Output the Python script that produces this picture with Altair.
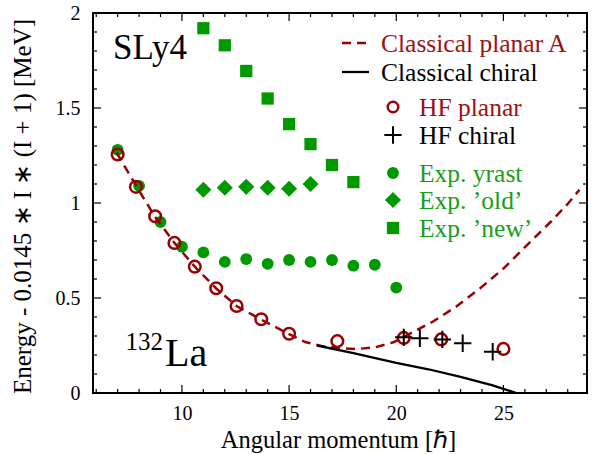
import altair as alt
import pandas as pd

# ---------------- data ----------------
yrast_I = [7, 8, 9, 10, 11, 12, 13, 14, 15, 16, 17, 18, 19, 20]
yrast_E = [1.28, 1.09, 0.90, 0.77, 0.74, 0.69, 0.705, 0.68, 0.70, 0.69, 0.70, 0.67, 0.675, 0.555]

old_I = [11, 12, 13, 14, 15, 16]
old_E = [1.07, 1.08, 1.085, 1.08, 1.075, 1.10]

new_I = [11, 12, 13, 14, 15, 16, 17, 18]
new_E = [1.92, 1.83, 1.695, 1.55, 1.415, 1.31, 1.20, 1.11]

hfp_I = [7.0, 7.85, 8.75, 9.65, 10.6, 11.6, 12.55, 13.7, 15.0, 17.25, 20.35, 22.1, 25.0]
hfp_E = [1.255, 1.085, 0.93, 0.79, 0.665, 0.551, 0.458, 0.388, 0.312, 0.273, 0.29, 0.282, 0.232]

hfc_I = [20.35, 21.1, 22.15, 23.1, 24.5]
hfc_E = [0.293, 0.288, 0.282, 0.262, 0.217]

cpa_I = [6.95, 7.5, 8.0, 8.7, 9.65, 10.6, 11.6, 12.55, 13.7, 15.0, 15.75, 16.5, 17.3, 18.1,
         19.0, 19.9, 20.6, 21.7, 22.8, 23.9, 25.0, 26.1, 27.2, 28.0, 28.55]
cpa_E = [1.265, 1.16, 1.065, 0.935, 0.79, 0.665, 0.55, 0.458, 0.386, 0.31, 0.268, 0.248, 0.236, 0.231,
         0.24, 0.268, 0.31, 0.375, 0.455, 0.55, 0.655, 0.778, 0.9, 0.995, 1.07]

cc_I = [16.3, 18.0, 20.0, 21.5, 23.0, 24.5, 25.6]
cc_E = [0.25, 0.21, 0.158, 0.125, 0.085, 0.04, 0.0]

x_major = [10, 15, 20, 25]
x_minor = [6, 7, 8, 9, 11, 12, 13, 14, 16, 17, 18, 19, 21, 22, 23, 24, 26, 27, 28]
y_major = [0, 0.5, 1, 1.5, 2]
y_minor = [0.1, 0.2, 0.3, 0.4, 0.6, 0.7, 0.8, 0.9, 1.1, 1.2, 1.3, 1.4, 1.6, 1.7, 1.8, 1.9]

legend_labels = ["Classical planar A", "Classical chiral", "HF planar", "HF chiral",
                 "Exp. yrast", "Exp. \u2019old\u2019", "Exp. \u2019new\u2019"]

# ---------------- styles ----------------
W, H = 494, 380
RED = "#9b0000"
RED_TXT = "#a01010"
GREEN = "#009a00"
GREEN_TXT = "#1a9e1a"
FONT = "Liberation Serif"
CROSS = "M-1,0L1,0M0,-1L0,1"

xs = alt.Scale(domain=[5.85, 28.9], nice=False, zero=False)
ys = alt.Scale(domain=[0, 2], nice=False, zero=False)

x_axis = alt.Axis(values=x_major, ticks=False, tickSize=0, domain=False, grid=False,
                  labelPadding=10, labelFontSize=20, labelFont=FONT,
                  title="Angular momentum [\u210f]", titleFont=FONT, titleFontSize=24.5,
                  titleFontWeight="normal", titleX=W / 2 - 2, titleY=54,
                  titleBaseline="alphabetic", titleAlign="center")
y_axis = alt.Axis(values=y_major, format="~g", ticks=False, tickSize=0, domain=False, grid=False,
                  labelPadding=13, labelFontSize=20, labelFont=FONT,
                  title="Energy - 0.0145 \u2217 I \u2217 (I + 1) [MeV]", titleFont=FONT,
                  titleFontSize=25, titleFontWeight="normal", titleX=-63, titleY=H / 2 + 3,
                  titleAngle=270, titleBaseline="alphabetic", titleAlign="center")


def X():
    return alt.X("I:Q", scale=xs, axis=x_axis)


def Y():
    return alt.Y("E:Q", scale=ys, axis=y_axis)


def df(I, E):
    return pd.DataFrame({"I": I, "E": E, "k": list(range(len(I)))})


one = pd.DataFrame({"I": [10.0], "E": [1.0]})

layers = []

# experimental points
layers.append(alt.Chart(df(yrast_I, yrast_E)).mark_point(
    shape="circle", filled=True, size=140, color=GREEN, opacity=1).encode(x=X(), y=Y()))
layers.append(alt.Chart(df(old_I, old_E)).mark_point(
    shape="diamond", filled=True, size=260, color=GREEN, opacity=1).encode(x=X(), y=Y()))
layers.append(alt.Chart(df(new_I, new_E)).mark_point(
    shape="square", filled=True, size=150, color=GREEN, opacity=1).encode(x=X(), y=Y()))

# classical curves
layers.append(alt.Chart(df(cpa_I, cpa_E)).mark_line(
    color=RED, strokeWidth=2.5, strokeDash=[9, 6]).encode(x=X(), y=Y(), order="k:Q"))
layers.append(alt.Chart(df(cc_I, cc_E)).mark_line(
    color="black", strokeWidth=2.3).encode(x=X(), y=Y(), order="k:Q"))

# HF
layers.append(alt.Chart(df(hfp_I, hfp_E)).mark_point(
    shape="circle", filled=False, size=135, color=RED, strokeWidth=2.5, opacity=1).encode(x=X(), y=Y()))
layers.append(alt.Chart(df(hfc_I, hfc_E)).mark_point(
    shape=CROSS, filled=False, size=300, color="black", strokeWidth=2, opacity=1).encode(x=X(), y=Y()))

# inward ticks on all four sides
xmaj = pd.DataFrame({"I": x_major})
xmin = pd.DataFrame({"I": x_minor})
ymaj = pd.DataFrame({"E": y_major})
ymin = pd.DataFrame({"E": y_minor})
for d, L in ((xmaj, 8), (xmin, 4)):
    layers.append(alt.Chart(d).mark_rule(color="black", strokeWidth=1.2).encode(
        x=X(), y=alt.value(H), y2=alt.value(H - L)))
    layers.append(alt.Chart(d).mark_rule(color="black", strokeWidth=1.2).encode(
        x=X(), y=alt.value(0), y2=alt.value(L)))
for d, L in ((ymaj, 8), (ymin, 4)):
    layers.append(alt.Chart(d).mark_rule(color="black", strokeWidth=1.2).encode(
        y=Y(), x=alt.value(0), x2=alt.value(L)))
    layers.append(alt.Chart(d).mark_rule(color="black", strokeWidth=1.2).encode(
        y=Y(), x=alt.value(W - L), x2=alt.value(W)))

# annotations
layers.append(alt.Chart(one).mark_text(font=FONT, fontSize=35, align="left", baseline="alphabetic",
                                       color="black").encode(
    x=alt.value(20), y=alt.value(46), text=alt.value("SLy4")))
layers.append(alt.Chart(one).mark_text(font=FONT, fontSize=25, align="right", baseline="alphabetic",
                                       color="black").encode(
    x=alt.value(70), y=alt.value(337), text=alt.value("132")))
layers.append(alt.Chart(one).mark_text(font=FONT, fontSize=40, align="left", baseline="alphabetic",
                                       color="black").encode(
    x=alt.value(72), y=alt.value(353), text=alt.value("La")))

# legend
rows_y = [30, 59, 94, 122, 160, 187, 215]
txt_colors = [RED_TXT, "black", RED_TXT, "black", GREEN_TXT, GREEN_TXT, GREEN_TXT]
txt_x = [288, 288, 326, 326, 326, 326, 326]
for lab, yy, c, xx in zip(legend_labels, rows_y, txt_colors, txt_x):
    layers.append(alt.Chart(one).mark_text(font=FONT, fontSize=25.5, align="left", baseline="middle",
                                           color=c).encode(
        x=alt.value(xx), y=alt.value(yy + 1), text=alt.value(lab)))

layers.append(alt.Chart(one).mark_rule(color=RED, strokeWidth=2.5, strokeDash=[9, 6]).encode(
    x=alt.value(249), x2=alt.value(276), y=alt.value(rows_y[0])))
layers.append(alt.Chart(one).mark_rule(color="black", strokeWidth=2.3).encode(
    x=alt.value(249), x2=alt.value(276), y=alt.value(rows_y[1])))
sym_specs = [
    (2, dict(shape="circle", filled=False, size=110, color=RED, strokeWidth=2.5)),
    (3, dict(shape=CROSS, filled=False, size=300, color="black", strokeWidth=2)),
    (4, dict(shape="circle", filled=True, size=140, color=GREEN)),
    (5, dict(shape="diamond", filled=True, size=260, color=GREEN)),
    (6, dict(shape="square", filled=True, size=150, color=GREEN)),
]
for i, kw in sym_specs:
    layers.append(alt.Chart(one).mark_point(opacity=1, **kw).encode(
        x=alt.value(300), y=alt.value(rows_y[i])))

chart = alt.layer(*layers).properties(
    width=W, height=H,
    autosize=alt.AutoSizeParams(type="none"),
    padding={"left": 93, "top": 13, "right": 8, "bottom": 61},
).configure_view(stroke="black", strokeWidth=2).configure_axis(
    labelColor="black", titleColor="black"
)

chart.save("out.html", embed_options={"renderer": "svg", "actions": False})
